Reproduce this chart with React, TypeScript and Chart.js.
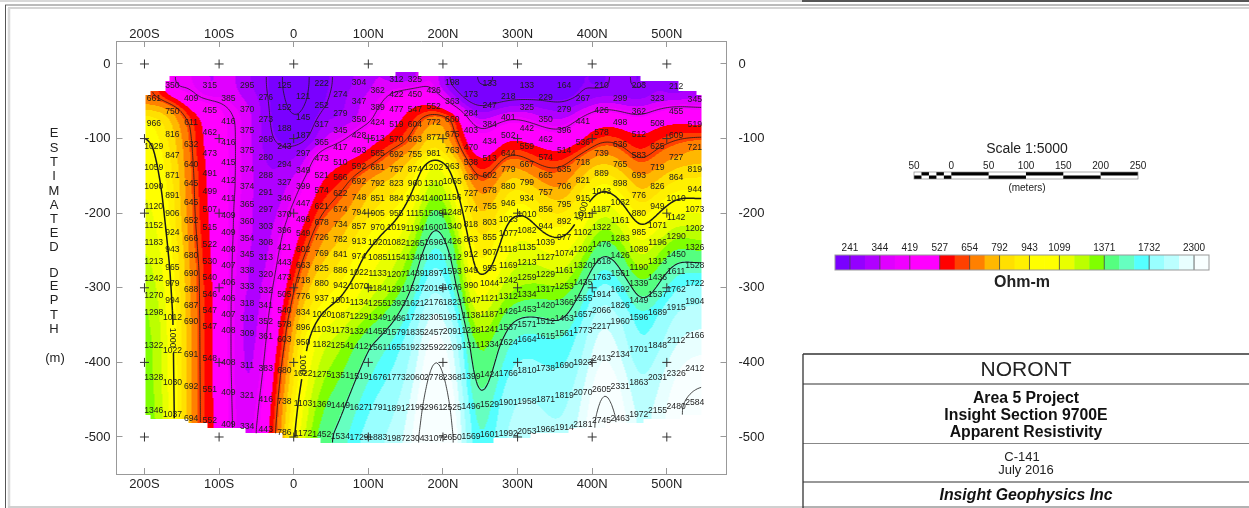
import React, { useEffect, useRef } from "react";
import { Chart, registerables } from "chart.js";

Chart.register(...registerables);

type Reading = [number, number]; // [depth in metres, apparent resistivity in ohm-m]

const stations = [
  -187.5, -162.5, -137.5, -112.5, -87.5, -62.5, -37.5, -12.5, 12.5, 37.5,
  62.5, 87.5, 112.5, 137.5, 162.5, 187.5, 212.5, 237.5, 262.5, 287.5,
  312.5, 337.5, 362.5, 387.5, 412.5, 437.5, 462.5, 487.5, 512.5, 537.5,
];

const s00: Reading[] = [[47,661],[79.5,966],[111,1029],[138.5,1059],[165,1090],[191,1120],[217,1152],[240,1183],[265,1213],[288,1242],[310,1270],[333,1298],[378,1322],[421,1328],[465,1346]];
const s01: Reading[] = [[29.5,350],[64,750],[95,816],[123,847],[150,871],[176,891],[201,906],[225.6,924],[249,943],[272.5,965],[295,979],[317.6,994],[340,1012],[384,1022],[427,1030],[470.5,1037]];
const s02: Reading[] = [[47,409],[79,611],[108.5,632],[135,640],[161,645],[186,645],[210,652],[234.5,666],[257,680],[280.6,690],[302,688],[324,687],[346,690],[390,691],[432.5,692],[475,694]];
const s03: Reading[] = [[29.5,315],[62.5,455],[92,462],[120.6,473],[146.5,491],[171,499],[195.6,507],[219,515],[242.6,522],[265,530],[287,540],[309,546],[330,547],[352,547],[395.4,548],[437,551],[478.5,552]];
const s04: Reading[] = [[47,385],[77,416],[105,416],[132,415],[156,412],[180,411],[203,409],[226,409],[249,408],[270.7,407],[293,406],[314.5,406],[336,407],[357,408],[400,408],[441,409],[483,409]];
const s05: Reading[] = [[29.5,295],[61.6,370],[89,375],[116,375],[141,374],[165,374],[189,365],[211,360],[233.6,354],[255,345],[277.4,338],[298.4,333],[320.8,318],[341,313],[362,309],[404.3,311],[445,321],[486,334]];
const s06: Reading[] = [[45,276],[74,273],[102,268],[126,280],[150,288],[173,291],[195.6,297],[218,303],[239,308],[260,313],[283,320],[304,332],[324,341],[345,352],[366,361],[409,383],[449.5,416],[490.6,443]];
const s07: Reading[] = [[29.5,125],[59,152],[86,188],[111,243],[135,294],[158.6,327],[180,346],[202,370],[223,396],[245.7,421],[266,443],[287,473],[308.7,505],[330,540],[350,578],[370,603],[411.5,680],[452.6,738],[493.7,786]];
const s08: Reading[] = [[44,121],[71.4,145],[96.5,187],[120,297],[143,349],[164,399],[187,447],[208,496],[228,549],[249,602],[270.7,663],[290.8,718],[312,776],[332.8,834],[353,896],[373.5,950],[414.6,1022],[454.8,1103],[495,1172]];
const s09: Reading[] = [[27,222],[56,252],[81,317],[105,365],[127,473],[149,521],[170,574],[191,621],[212,678],[233,726],[254,769],[274,825],[294,880],[315,937],[335.5,1020],[355.6,1103],[376.6,1182],[416,1275],[457,1369],[497,1452]];
const s10: Reading[] = [[41.5,274],[66,279],[89,345],[111.7,417],[132,510],[153,566],[174,622],[195.6,674],[216,734],[236,782],[256,841],[277,886],[297.5,942],[317,1001],[337.8,1087],[358,1173],[378,1254],[418,1351],[458.4,1449],[499.5,1534]];
const s11: Reading[] = [[25,304],[51,347],[74,350],[96,428],[116.6,493],[137.6,592],[158,692],[178.7,748],[199,794],[218,857],[238,913],[258,974],[279.7,1022],[299,1070],[319.4,1134],[338.7,1229],[358.8,1324],[379,1412],[419,1519],[460,1627],[500.4,1729]];
const s12: Reading[] = [[35.7,362],[58,389],[78.6,424],[99.6,513],[119.7,585],[139,681],[160,792],[180,851],[200,905],[220,970],[239.5,1020],[259,1085],[280.6,1133],[300.7,1184],[320.8,1255],[339.5,1349],[358.8,1455],[380,1561],[420,1676],[460.6,1791],[501,1883]];
const s13: Reading[] = [[20.5,312],[40.6,422],[60.7,477],[81,519],[102,570],[121,692],[141,757],[161,823],[180,884],[201,955],[220,1019],[240,1082],[259,1154],[282,1207],[302,1291],[321.7,1393],[341,1486],[360,1579],[380,1655],[421,1773],[461.5,1891],[501.7,1987]];
const s14: Reading[] = [[20.5,325],[40.6,450],[60.7,547],[81,604],[101,663],[121,755],[141,874],[161,960],[181,1034],[201,1115],[221,1194],[241,1265],[260,1348],[281.5,1439],[301.6,1527],[321.7,1621],[339.5,1728],[359.7,1835],[379.8,1923],[420.4,2060],[460.6,2195],[501.7,2304]];
const s15: Reading[] = [[35.7,426],[57,552],[78,772],[98.7,877],[119.7,981],[139,1202],[161,1310],[180,1400],[200,1509],[220,1600],[240,1696],[259,1801],[281,1897],[300.7,2019],[320,2176],[339.5,2305],[359.7,2457],[380,2592],[420.4,2778],[460.6,2961],[501.7,3107]];
const s16: Reading[] = [[25,198],[51,363],[74,660],[95,675],[116,763],[137.6,963],[158,1065],[178.7,1156],[199,1248],[218,1340],[238,1426],[259,1512],[279,1593],[299.3,1676],[319.4,1823],[339.5,1951],[358.8,2091],[379.8,2209],[420,2368],[460,2525],[500.4,2650]];
const s17: Reading[] = [[41.5,173],[66,284],[89,403],[111.7,470],[132,538],[153,630],[174,727],[195.6,774],[216,818],[236,863],[256,912],[277,949],[297.5,990],[317,1047],[337.3,1138],[358,1228],[378,1311],[419,1399],[459,1496],[499.5,1569]];
const s18: Reading[] = [[27,133],[56,247],[81,384],[104,434],[127,513],[149,602],[170,678],[191,755],[212,803],[233,855],[253,907],[274,955],[294,1044],[315,1121],[335.5,1187],[355.6,1241],[376.6,1334],[416,1424],[457,1529],[497,1601]];
const s19: Reading[] = [[44,218],[71.4,401],[96.5,502],[120,644],[142,779],[164,880],[187,946],[208,1023],[228,1077],[249,1118],[270.7,1169],[291,1242],[312,1312],[332,1426],[353,1537],[373.5,1624],[414.6,1766],[454,1901],[495,1992]];
const s20: Reading[] = [[29,133],[59,325],[86,442],[111,559],[135,667],[158.6,799],[180,934],[202,1010],[223,1082],[245.7,1135],[266,1213],[287,1259],[308.7,1334],[329,1453],[349,1571],[370,1664],[411.5,1810],[452.6,1958],[493,2053]];
const s21: Reading[] = [[45,229],[74,350],[102,462],[126,574],[150,665],[173,757],[195.6,856],[218,944],[239,1039],[260,1127],[282,1229],[303,1317],[324,1420],[345,1512],[366,1615],[408,1738],[449.5,1871],[490,1966]];
const s22: Reading[] = [[29,164],[61.6,279],[89,396],[116,514],[141,635],[165,706],[189,795],[211,892],[233,977],[254.6,1074],[277,1161],[298,1253],[320,1366],[341,1463],[362,1561],[404,1690],[445,1819],[487,1914]];
const s23: Reading[] = [[47,267],[77,441],[105,536],[132,718],[156,821],[180,915],[203,1011],[226,1102],[249,1202],[270.7,1320],[293,1435],[314.5,1555],[336,1657],[357,1773],[400,1923],[441,2070],[484,2181]];
const s24: Reading[] = [[29.5,210],[62.5,426],[92,578],[120.6,739],[146.5,889],[171,1043],[195.6,1187],[219,1322],[242.6,1476],[265,1618],[287,1763],[308.7,1914],[330,2066],[352,2217],[395,2413],[437,2605],[478.5,2745]];
const s25: Reading[] = [[47,299],[79,498],[108.5,636],[135,765],[161,898],[186,1032],[210,1161],[234.5,1283],[257,1426],[280.6,1561],[302,1692],[324,1826],[346,1960],[390,2134],[432.5,2331],[475,2463]];
const s26: Reading[] = [[29.5,203],[64,362],[95,512],[123,583],[150,693],[176,776],[201,880],[225.6,985],[249,1089],[272.5,1190],[295,1339],[317.6,1449],[340,1596],[383,1701],[427,1863],[470.5,1972]];
const s27: Reading[] = [[47,323],[79.5,508],[111,625],[138.5,719],[165,826],[191,949],[217,1071],[240,1196],[265,1313],[287,1436],[309.6,1537],[333,1689],[378,1848],[421,2031],[465,2155]];
const s28: Reading[] = [[30,212],[64,455],[96.5,609],[125,727],[153,864],[180,1010],[206,1142],[231,1290],[255,1450],[279,1611],[303,1762],[326,1915],[371,2112],[414.6,2326],[459,2480]];
const s29: Reading[] = [[48,345],[81,519],[112,721],[141,819],[169,944],[195.6,1073],[221,1202],[246,1326],[270,1528],[294,1722],[318.6,1904],[364.6,2166],[409,2412],[453.5,2584]];

const soundings: Reading[][] = [s00,s01,s02,s03,s04,s05,s06,s07,s08,s09,s10,s11,s12,s13,s14,s15,s16,s17,s18,s19,s20,s21,s22,s23,s24,s25,s26,s27,s28,s29];

// Outline of the surveyed section: [station, depth]
const sectionTop: Reading[] = [[-199,41.6],[-192,36],[-172,23],[-166.5,16],[136,10.7],[167,16],[465,23],[516,36],[540,41.6],[547,41.6]];
const sectionBottom: Reading[] = [[-199,470.5],[-192,476],[-141,481.6],[-115.5,488],[-65,495],[-15,501.6],[36,508],[268,501.6],[317,495],[368,488],[418,481.6],[469,476],[518,470.5],[547,470.5]];

const colorBreaks = [241,297,344,382,419,473,527,590,654,723,792,868,943,1021,1099,1190,1280,1371,1491,1611,1732,1920,2110,2300];
const colorRamp = [
  "#7a00ff","#9400ff","#b000ff","#e000ff","#f000ff","#ff00ff","#ff00ff","#ff0000","#ff4000","#ff8000",
  "#ffb800","#ffe000","#fff000","#ffff00","#ffff00","#e8ff00","#bcff00","#80ff00","#55ff80","#66ffc0",
  "#55ffff","#99ffff","#bbffff","#e8ffff","#f8ffff",
];
const legendLabels = [241,344,419,527,654,792,943,1099,1371,1732,2300];
const legendLabelCells = [1,3,5,7,9,11,13,15,18,21,24];

const contourLevels = [160,250,400,630,1000,1500,2500];
const contourTags: { x: number; d: number; rot: number }[] = [
  { x: -162.5, d: 367, rot: 90 },
  { x: 12, d: 403, rot: 90 },
  { x: 387, d: 198, rot: -70 },
];

const xTicks = [-200,-100,0,100,200,300,400,500];
const yTicks = [0,-100,-200,-300,-400,-500];
const xLabel = (v: number) => (v < 0 ? `${-v}S` : v > 0 ? `${v}N` : "0");
const depthWords = ["E","S","T","I","M","A","T","E","D"];
const depthWords2 = ["D","E","P","T","H"];

const FONT = '"Liberation Sans", Arial, sans-serif';

function readAt(col: Reading[], d: number) {
  if (d <= col[0][0]) return col[0][1];
  for (let i = 1; i < col.length; i++) {
    if (d <= col[i][0]) {
      const t = (d - col[i - 1][0]) / (col[i][0] - col[i - 1][0]);
      return col[i - 1][1] + t * (col[i][1] - col[i - 1][1]);
    }
  }
  return col[col.length - 1][1];
}
function rawField(x: number, d: number) {
  const n = stations.length;
  if (x <= stations[0]) return readAt(soundings[0], d);
  if (x >= stations[n - 1]) return readAt(soundings[n - 1], d);
  const f = (x - stations[0]) / (stations[1] - stations[0]);
  const i = Math.floor(f);
  const t = f - i;
  return readAt(soundings[i], d) * (1 - t) + readAt(soundings[i + 1], d) * t;
}

// Smoothed gridding of the readings, as a contouring package would do
const GX0 = -210, GD0 = 0, GS = 5;
const GNX = 160, GND = 106;
function kernel(sigma: number) {
  const r = Math.ceil(sigma * 3);
  const k: number[] = [];
  let s = 0;
  for (let i = -r; i <= r; i++) { const w = Math.exp(-(i * i) / (2 * sigma * sigma)); k.push(w); s += w; }
  return k.map((w) => w / s);
}
const grid = (() => {
  let g = new Float64Array(GNX * GND);
  for (let j = 0; j < GND; j++) for (let i = 0; i < GNX; i++) g[j * GNX + i] = rawField(GX0 + i * GS, GD0 + j * GS);
  const kx = kernel(2.2), rx = (kx.length - 1) / 2;
  const kd = kernel(1.0), rd = (kd.length - 1) / 2;
  const h = new Float64Array(GNX * GND);
  for (let j = 0; j < GND; j++) for (let i = 0; i < GNX; i++) {
    let s = 0;
    for (let q = -rx; q <= rx; q++) s += kx[q + rx] * g[j * GNX + Math.min(GNX - 1, Math.max(0, i + q))];
    h[j * GNX + i] = s;
  }
  const o = new Float64Array(GNX * GND);
  for (let j = 0; j < GND; j++) for (let i = 0; i < GNX; i++) {
    let s = 0;
    for (let q = -rd; q <= rd; q++) s += kd[q + rd] * h[Math.min(GND - 1, Math.max(0, j + q)) * GNX + i];
    o[j * GNX + i] = s;
  }
  return o;
})();
function field(x: number, d: number) {
  const fx = Math.min(GNX - 1.001, Math.max(0, (x - GX0) / GS));
  const fd = Math.min(GND - 1.001, Math.max(0, (d - GD0) / GS));
  const i = Math.floor(fx), j = Math.floor(fd);
  const tx = fx - i, td = fd - j;
  const a = grid[j * GNX + i], b = grid[j * GNX + i + 1];
  const c = grid[(j + 1) * GNX + i], e = grid[(j + 1) * GNX + i + 1];
  return (a * (1 - tx) + b * tx) * (1 - td) + (c * (1 - tx) + e * tx) * td;
}

function step(edge: Reading[], x: number) {
  let v = edge[0][1];
  for (const e of edge) if (x >= e[0]) v = e[1];
  return v;
}
function inside(x: number, d: number) {
  if (x < sectionTop[0][0] || x > sectionTop[sectionTop.length - 1][0]) return false;
  return d >= step(sectionTop, x) && d <= step(sectionBottom, x);
}
function hexRgb(h: string) {
  return [parseInt(h.slice(1, 3), 16), parseInt(h.slice(3, 5), 16), parseInt(h.slice(5, 7), 16)];
}
const rampRgb = colorRamp.map(hexRgb);
function classOf(v: number) {
  let i = 0;
  while (i < colorBreaks.length && v >= colorBreaks[i]) i++;
  return i;
}

const sectionPlugin = {
  id: "section",
  beforeDatasetsDraw(chart: any) {
    const { ctx, chartArea: a, scales } = chart;
    const xs = scales.x, ys = scales.y;
    const w = Math.ceil(a.right - a.left), h = Math.ceil(a.bottom - a.top);
    const off = document.createElement("canvas");
    off.width = w; off.height = h;
    const oc = off.getContext("2d")!;
    const img = oc.createImageData(w, h);
    for (let j = 0; j < h; j++) {
      const d = -ys.getValueForPixel(a.top + j + 0.5);
      for (let i = 0; i < w; i++) {
        const x = xs.getValueForPixel(a.left + i + 0.5);
        if (!inside(x, d)) continue;
        const c = rampRgb[classOf(field(x, d))];
        const k = (j * w + i) * 4;
        img.data[k] = c[0]; img.data[k + 1] = c[1]; img.data[k + 2] = c[2]; img.data[k + 3] = 255;
      }
    }
    oc.putImageData(img, 0, 0);
    ctx.save();
    ctx.filter = "blur(0.7px)";
    ctx.drawImage(off, a.left, a.top);
    ctx.filter = "none";

    // contour lines, traced on the same field through the scales
    const dx = 2.5, dd = 2.5;
    for (const level of contourLevels) {
      ctx.beginPath();
      for (let x = -199; x < 547; x += dx) {
        for (let d = 10; d < 510; d += dd) {
          if (!inside(x, d) || !inside(x + dx, d + dd)) continue;
          const v = [field(x, d), field(x + dx, d), field(x + dx, d + dd), field(x, d + dd)];
          const c: [number, number][] = [[x, d], [x + dx, d], [x + dx, d + dd], [x, d + dd]];
          const pts: [number, number][] = [];
          for (let e = 0; e < 4; e++) {
            const n = (e + 1) % 4;
            if (v[e] < level !== v[n] < level) {
              const t = (level - v[e]) / (v[n] - v[e]);
              pts.push([c[e][0] + t * (c[n][0] - c[e][0]), c[e][1] + t * (c[n][1] - c[e][1])]);
            }
          }
          for (let p = 0; p + 1 < pts.length; p += 2) {
            if (level === 1000 && contourTags.some((g) => Math.hypot(pts[p][0] - g.x, pts[p][1] - g.d) < 19)) continue;
            ctx.moveTo(xs.getPixelForValue(pts[p][0]), ys.getPixelForValue(-pts[p][1]));
            ctx.lineTo(xs.getPixelForValue(pts[p + 1][0]), ys.getPixelForValue(-pts[p + 1][1]));
          }
        }
      }
      ctx.strokeStyle = "#1a1a1a";
      ctx.lineWidth = level === 1000 ? 1.5 : level === 1500 ? 1.1 : 0.8;
      ctx.stroke();
    }
    ctx.fillStyle = "#222";
    ctx.font = `9px ${FONT}`;
    ctx.textAlign = "center";
    ctx.textBaseline = "middle";
    for (const g of contourTags) {
      ctx.save();
      ctx.translate(xs.getPixelForValue(g.x), ys.getPixelForValue(-g.d));
      ctx.rotate((g.rot * Math.PI) / 180);
      ctx.fillText("1000", 0, 0);
      ctx.restore();
    }
    ctx.restore();
  },
  afterDatasetsDraw(chart: any) {
    const { ctx } = chart;
    const meta = chart.getDatasetMeta(1);
    const ds = chart.data.datasets[1].data;
    ctx.save();
    ctx.fillStyle = "#1c1c1c";
    ctx.font = `8.6px ${FONT}`;
    ctx.textAlign = "center";
    ctx.textBaseline = "middle";
    meta.data.forEach((el: any, i: number) => {
      ctx.fillText(String(ds[i].ohm), el.x, el.y);
    });
    ctx.restore();
  },
  afterDraw(chart: any) {
    const { ctx } = chart;
    ctx.save();
    const hLine = (x0: number, x1: number, y: number, c: string, lw: number) => {
      ctx.strokeStyle = c; ctx.lineWidth = lw;
      ctx.beginPath(); ctx.moveTo(x0, y); ctx.lineTo(x1, y); ctx.stroke();
    };
    const vLine = (x: number, y0: number, y1: number, c: string, lw: number) => {
      ctx.strokeStyle = c; ctx.lineWidth = lw;
      ctx.beginPath(); ctx.moveTo(x, y0); ctx.lineTo(x, y1); ctx.stroke();
    };
    const text = (s: string, x: number, y: number, font: string, align = "center", color = "#222") => {
      ctx.font = `${font} ${FONT}`; ctx.textAlign = align; ctx.textBaseline = "middle"; ctx.fillStyle = color;
      ctx.fillText(s, x, y);
    };
    // page frame
    hLine(0, 802, 1, "#d8d8d8", 2);
    hLine(802, 1249, 1, "#555", 2);
    hLine(5, 1249, 5, "#777", 1);
    hLine(8, 1249, 8, "#d4d4d4", 2);
    vLine(5.5, 5, 508, "#555", 1);
    vLine(9, 8, 508, "#d8d8d8", 2.5);
    hLine(8, 803, 507, "#d0d0d0", 2);

    // depth caption
    const ys1 = [133, 148, 162, 176, 191, 205, 219, 233, 247];
    depthWords.forEach((c, i) => text(c, 54, ys1[i], "13px"));
    const ys2 = [273, 286, 300, 315, 329];
    depthWords2.forEach((c, i) => text(c, 54, ys2[i], "13px"));
    text("(m)", 55, 358, "13px");

    // scale bar
    text("Scale 1:5000", 1027, 149, "14px");
    const marks = ["50", "0", "50", "100", "150", "200", "250"];
    marks.forEach((m, i) => text(m, 914 + i * 37.33, 166, "10px"));
    ctx.fillStyle = "#fff"; ctx.fillRect(914, 172, 224, 7);
    ctx.fillStyle = "#000";
    for (let i = 0; i < 5; i++) ctx.fillRect(914 + i * 7.47, i % 2 ? 172 : 175.5, 7.47, 3.5);
    for (let i = 0; i < 5; i++) ctx.fillRect(951.3 + i * 37.33, i % 2 ? 175.5 : 172, 37.33, 3.5);
    ctx.strokeStyle = "#888"; ctx.lineWidth = 0.7; ctx.strokeRect(914, 172, 224, 7);
    text("(meters)", 1027, 188, "10px");

    // colour legend
    const cw = (1209 - 835) / colorRamp.length;
    colorRamp.forEach((c, i) => {
      ctx.fillStyle = c;
      ctx.fillRect(835 + i * cw, 255, cw + 0.5, 15);
    });
    legendLabels.forEach((l, i) => {
      const x = 835 + legendLabelCells[i] * cw;
      vLine(x, 255, 270, "#444", 0.8);
      text(String(l), x, 248, "10px");
    });
    ctx.strokeStyle = "#999"; ctx.lineWidth = 1; ctx.strokeRect(835, 255, 374, 15);
    text("Ohm-m", 1022, 283, "bold 16px");

    // title block
    ctx.fillStyle = "#fff";
    ctx.fillRect(803, 354, 446, 154);
    hLine(803, 1249, 354, "#333", 1.5);
    hLine(803, 1249, 384, "#333", 1.2);
    hLine(803, 1249, 443.5, "#888", 1);
    hLine(803, 1249, 482, "#333", 1.2);
    hLine(803, 1249, 507, "#999", 1.5);
    vLine(803, 354, 508, "#333", 1.3);
    text("NORONT", 1026, 370, "21px", "center", "#222");
    text("Area 5 Project", 1026, 399, "bold 15.8px", "center", "#111");
    text("Insight Section 9700E", 1026, 416, "bold 15.8px", "center", "#111");
    text("Apparent Resistivity", 1026, 433, "bold 15.8px", "center", "#111");
    text("C-141", 1022, 457, "13px");
    text("July 2016", 1026, 470, "13px");
    text("Insight Geophysics Inc", 1026, 496, "italic bold 15.8px", "center", "#111");
    ctx.restore();
  },
};

const readings = soundings.flatMap((col, i) =>
  col.map(([d, ohm]) => ({ x: stations[i], y: -d, ohm }))
);
const crossPoints = xTicks.flatMap((x) => yTicks.map((y) => ({ x, y })));

const axisColor = "#999";
const tickFont = { family: FONT, size: 13 };
const fixTicks = (vals: number[]) => (s: any) => {
  s.ticks = vals.map((value) => ({ value }));
};
const xAxis = (position: string, height: number, padding: number) => ({
  type: "linear",
  position,
  min: -237.5,
  max: 580,
  afterBuildTicks: fixTicks(xTicks),
  afterFit: (s: any) => { s.height = height; },
  grid: { drawOnChartArea: false, color: axisColor, tickLength: -6 },
  border: { color: axisColor },
  ticks: { maxRotation: 0, autoSkip: false, font: tickFont, color: "#222", padding, callback: (v: number) => xLabel(v) },
});
const yAxis = (position: string, width: number, padding: number) => ({
  type: "linear",
  position,
  min: -549.6,
  max: 30.8,
  afterBuildTicks: fixTicks(yTicks),
  afterFit: (s: any) => { s.width = width; },
  grid: { drawOnChartArea: false, color: axisColor, tickLength: -6 },
  border: { color: axisColor },
  ticks: { autoSkip: false, font: tickFont, color: "#222", padding, callback: (v: number) => String(v) },
});

export default function App() {
  const ref = useRef<HTMLCanvasElement>(null);
  useEffect(() => {
    const chart = new Chart(ref.current!, {
      type: "scatter",
      data: {
        datasets: [
          {
            label: "Grid crosses",
            data: crossPoints,
            pointStyle: "cross",
            pointRadius: 4.5,
            pointBorderWidth: 1,
            pointBorderColor: "#333",
            pointBackgroundColor: "#333",
          },
          { label: "Apparent resistivity", data: readings, pointRadius: 0 },
        ],
      } as any,
      options: {
        animation: false,
        responsive: false,
        layout: { padding: 0 },
        plugins: { legend: { display: false }, tooltip: { enabled: false }, title: { display: false } },
        events: [],
        scales: {
          x: xAxis("bottom", 34, 9),
          x2: xAxis("top", 41, 5),
          y: yAxis("left", 116.5, 12),
          y2: yAxis("right", 522.5, 18),
        },
      } as any,
      plugins: [sectionPlugin],
    });
    return () => chart.destroy();
  }, []);
  return (
    <div style={{ position: "fixed", left: 0, top: 0, width: 1249, height: 508, background: "#fff" }}>
      <canvas ref={ref} width={1249} height={508} style={{ display: "block" }} />
    </div>
  );
}
